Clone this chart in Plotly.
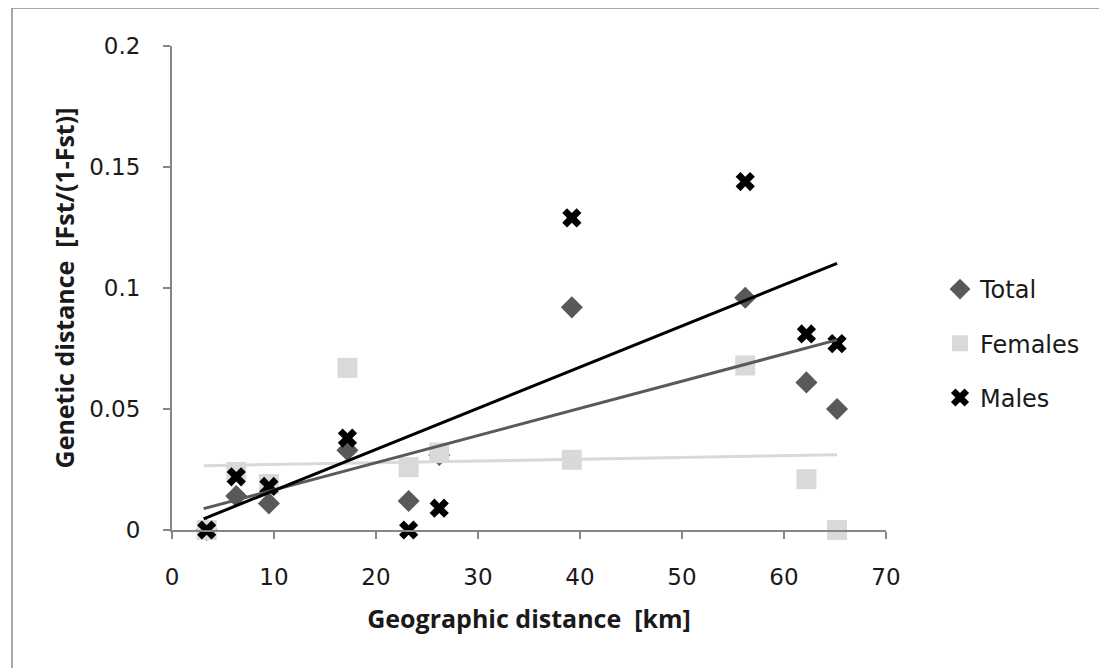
import numpy as np
import plotly.graph_objects as go

# ---- data ----
geo_km = [3.4, 6.3, 9.5, 17.2, 23.2, 26.2, 39.2, 56.2, 62.2, 65.2]
total = [0.000, 0.014, 0.011, 0.033, 0.012, 0.031, 0.092, 0.096, 0.061, 0.050]
females = [0.000, 0.024, 0.019, 0.067, 0.026, 0.032, 0.029, 0.068, 0.021, 0.000]
males = [0.000, 0.022, 0.018, 0.038, 0.000, 0.009, 0.129, 0.144, 0.081, 0.077]

y_tickvals = [0, 0.05, 0.1, 0.15, 0.2]
y_ticktext = ["0", "0.05", "0.1", "0.15", "0.2"]
x_tickvals = [0, 10, 20, 30, 40, 50, 60, 70]

C_TOTAL = "#595959"
C_FEM = "#d9d9d9"
C_MALE = "#000000"
TICKFONT = "DejaVu Sans"
TITLEFONT = "Open Sans"
TXT = "#1a1a1a"

fig = go.Figure()

series = [
    ("Total", total, C_TOTAL, "diamond", 17),
    ("Females", females, C_FEM, "square", 20),
    ("Males", males, C_MALE, "x", 17),
]
for name, ys, col, sym, sz in series:
    fig.add_trace(go.Scatter(
        x=geo_km, y=ys, mode="markers", name=name, legendgroup=name,
        marker=dict(symbol=sym, size=sz, color=col, line=dict(width=0)),
        cliponaxis=False,
    ))

# linear trendlines (least squares fit of each series)
xs = np.array(geo_km)
xline = np.array([xs.min() - 0.3, xs.max()])
for name, ys, col, sym, sz in [series[1], series[0], series[2]]:
    k, b = np.polyfit(xs, np.array(ys), 1)
    fig.add_trace(go.Scatter(
        x=xline, y=k * xline + b, mode="lines", showlegend=False,
        line=dict(color=col, width=3), hoverinfo="skip",
    ))

# page has an 8px body margin; work in page pixels and convert
O = 8
W, H = 1107 - O, 668 - O
L, R, T, B = 172 - O, 886 - O, 46 - O, 530 - O
pw, ph = R - L, B - T

def px2paper_x(px):
    return (px - O - L) / pw

def px2paper_y(py):
    return (B - (py - O)) / ph

fig.update_layout(
    width=W, height=H,
    margin=dict(l=L, r=W - R, t=T, b=H - B, autoexpand=False),
    paper_bgcolor="white", plot_bgcolor="white",
    font=dict(family=TICKFONT, size=23, color=TXT),
    showlegend=True,
    legend=dict(
        x=px2paper_x(940), y=px2paper_y(267), xanchor="left", yanchor="top",
        font=dict(family=TICKFONT, size=24, color=TXT),
        itemsizing="trace", tracegroupgap=20, itemwidth=30,
        bgcolor="rgba(0,0,0,0)",
    ),
    xaxis=dict(
        range=[0, 70], tickvals=x_tickvals, showgrid=False, zeroline=False,
        showline=True, linecolor="#868686", linewidth=2,
        ticks="outside", ticklen=7, tickcolor="#868686", tickwidth=2,
        tickfont=dict(family=TICKFONT, size=23, color=TXT),
        ticklabelstandoff=18,
        title=dict(text="<b>Geographic distance  [km]</b>", standoff=22,
                   font=dict(family=TITLEFONT, size=25, color=TXT)),
    ),
    yaxis=dict(
        range=[0, 0.2], tickvals=y_tickvals, ticktext=y_ticktext,
        showgrid=False, zeroline=False,
        showline=True, linecolor="#868686", linewidth=2,
        ticks="outside", ticklen=7, tickcolor="#868686", tickwidth=2,
        tickfont=dict(family=TICKFONT, size=23, color=TXT),
        ticklabelstandoff=18,
        title=dict(text="<b>Genetic distance  [Fst/(1-Fst)]</b>", standoff=7,
                   font=dict(family=TITLEFONT, size=25, color=TXT)),
    ),
    shapes=[dict(
        type="rect", xref="paper", yref="paper", layer="below",
        x0=px2paper_x(12), x1=px2paper_x(1100),
        y0=px2paper_y(680), y1=px2paper_y(8),
        line=dict(color="#8c8c8c", width=1.5), fillcolor="rgba(0,0,0,0)",
    )],
)

fig.write_html("out.html")
